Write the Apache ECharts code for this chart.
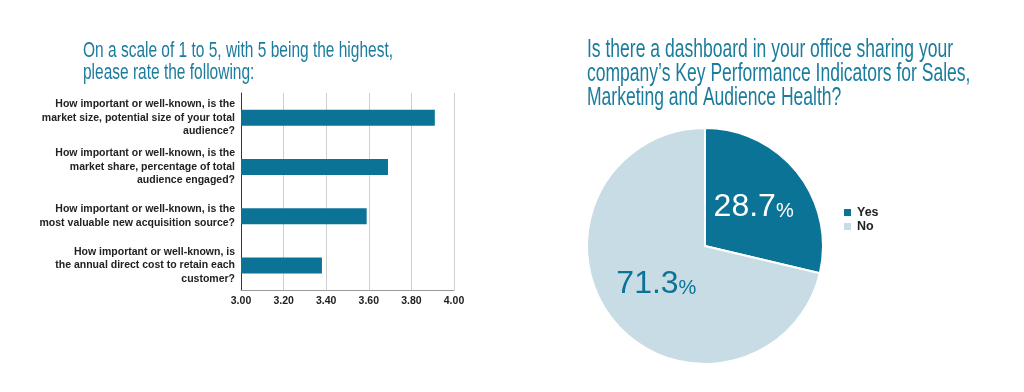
<!DOCTYPE html>
<html>
<head>
<meta charset="utf-8">
<script src="https://cdn.jsdelivr.net/npm/echarts@6/dist/echarts.min.js"></script>
<style>
html,body{margin:0;padding:0;background:#fff;}
#chart{width:1024px;height:392px;}
</style>
</head>
<body>
<div id="chart"></div>
<script>
// ---- data ----
var barTitleLines = ["On a scale of 1 to 5, with 5 being the highest,", "please rate the following:"];
var pieTitleLines = ["Is there a dashboard in your office sharing your", "company\u2019s Key Performance Indicators for Sales,", "Marketing and Audience Health?"];
var questions = [
  "How important or well-known, is the\nmarket size, potential size of your total\naudience?",
  "How important or well-known, is the\nmarket share, percentage of total\naudience engaged?",
  "How important or well-known, is the\nmost valuable new acquisition source?",
  "How important or well-known, is\nthe annual direct cost to retain each\ncustomer?"
];
var ratings = [3.91, 3.69, 3.59, 3.38];
var axisMin = 3.0, axisMax = 4.0, axisStep = 0.2;
var pieNames = ["Yes", "No"];
var pieValues = [28.7, 71.3];

var SANS = '"Liberation Sans", Arial, sans-serif';
var TEAL = '#0b7396';
var LIGHT = '#c8dce5';
var TITLE = '#1b7c9e';

// horizontal compression factor so the titles keep the reference's condensed width
function fitScale(text, font, target) {
  var ctx = document.createElement('canvas').getContext('2d');
  ctx.font = font;
  return target / ctx.measureText(text).width;
}
var leftFont = '22px ' + SANS;
var rightFont = '25px ' + SANS;
var leftScale = fitScale(barTitleLines[0], leftFont, 310);
var rightScale = fitScale(pieTitleLines[0], rightFont, 366);

var chart = echarts.init(document.getElementById('chart'), null, {renderer: 'canvas'});
chart.setOption({
  backgroundColor: '#ffffff',
  animation: false,
  graphic: [
    {
      type: 'text', x: 83, y: 40, scaleX: leftScale,
      style: {text: barTitleLines.join('\n'), font: leftFont, fill: TITLE, lineHeight: 22, verticalAlign: 'top'}
    },
    {
      type: 'text', x: 587, y: 38, scaleX: rightScale,
      style: {text: pieTitleLines.join('\n'), font: rightFont, fill: TITLE, lineHeight: 24, verticalAlign: 'top'}
    }
  ],
  grid: {left: 241, right: 570, top: 93, bottom: 102, containLabel: false},
  xAxis: {
    type: 'value', min: axisMin, max: axisMax, interval: axisStep,
    axisLine: {show: true, lineStyle: {color: '#999', width: 1}},
    axisTick: {show: false},
    splitLine: {show: true, lineStyle: {color: '#cfcfcf', width: 1}},
    axisLabel: {
      margin: 6, color: '#222', fontFamily: SANS, fontWeight: 'bold', fontSize: 10.5,
      formatter: function (v) { return v.toFixed(2); }
    }
  },
  yAxis: {
    type: 'category', data: questions, inverse: true,
    axisLine: {show: true, lineStyle: {color: '#333', width: 1}},
    axisTick: {show: false},
    splitLine: {show: false},
    axisLabel: {
      margin: 6, color: '#222', fontFamily: SANS, fontWeight: 'bold', fontSize: 10.5,
      lineHeight: 13.5, align: 'right'
    }
  },
  legend: {
    orient: 'vertical', left: 837, top: 201, itemWidth: 9, itemHeight: 9, itemGap: 1,
    icon: 'rect', data: pieNames,
    textStyle: {color: '#222', fontFamily: SANS, fontWeight: 'bold', fontSize: 12.5}
  },
  series: [
    {
      type: 'bar', data: ratings, barWidth: 16,
      itemStyle: {color: TEAL}, silent: true
    },
    {
      type: 'pie', center: [705, 246], radius: [0, 118], startAngle: 90, clockwise: true,
      data: pieNames.map(function (n, i) {
        var c = i === 0 ? '#ffffff' : TEAL;
        return {name: n, value: pieValues[i], label: {color: c, rich: {n: {color: c}, p: {color: c}}}};
      }),
      color: [TEAL, LIGHT],
      itemStyle: {borderColor: '#fff', borderWidth: 2},
      label: {
        show: true, position: 'inside',
        formatter: function (p) { return '{n|' + p.value.toFixed(1) + '}{p|%}'; },
        rich: {
          n: {fontFamily: SANS, fontSize: 32},
          p: {fontFamily: SANS, fontSize: 20, padding: [8, 0, 0, 0]}
        }
      },
      labelLine: {show: false},
      emphasis: {disabled: true}
    }
  ]
});
</script>
</body>
</html>
